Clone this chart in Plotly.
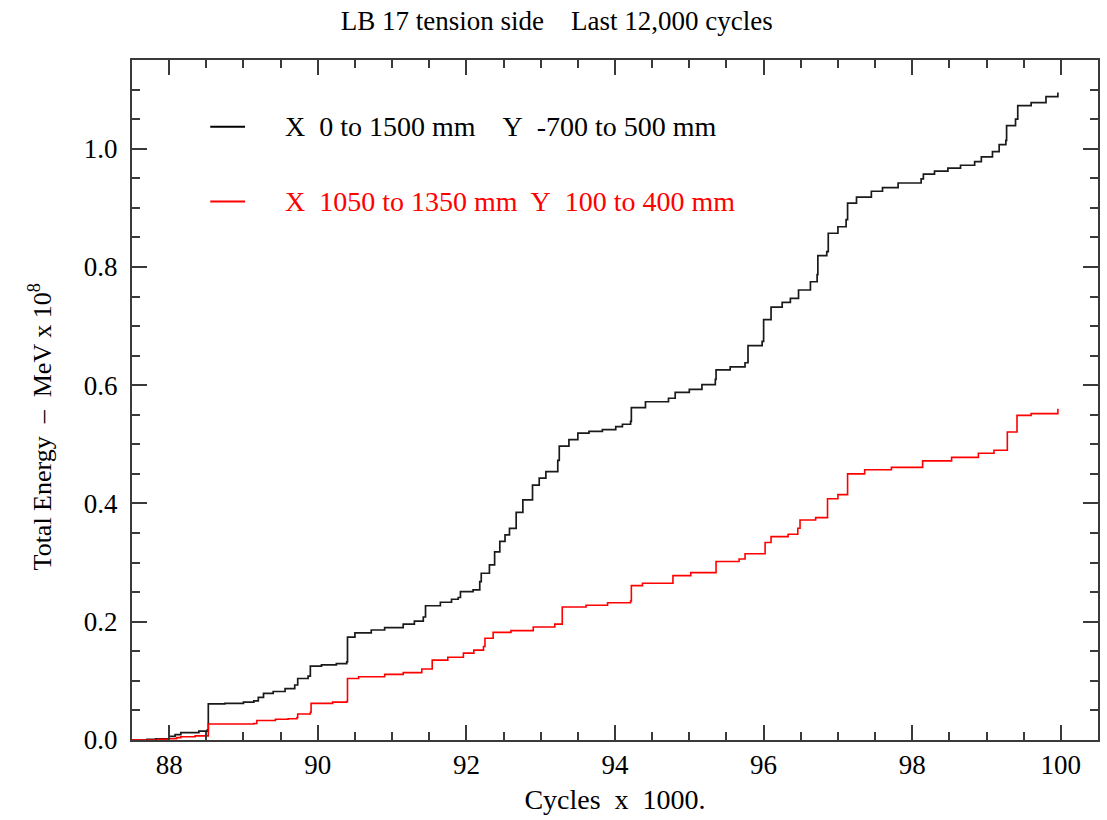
import plotly.graph_objects as go

# Cumulative energy, whole window X 0..1500 mm, Y -700..500 mm (step points: cycles/1000, MeV x 1e8)
full_cycles = [87.5, 87.70, 87.82, 88.0, 88.08, 88.157, 88.40, 88.514, 88.527, 88.75, 89.0, 89.14,
               89.20, 89.27, 89.40, 89.56, 89.69, 89.73, 89.87, 89.90, 90.05, 90.25, 90.39, 90.40,
               90.50, 90.72, 90.90, 91.15, 91.30, 91.42, 91.45, 91.65, 91.80, 91.89, 91.92, 92.09,
               92.18, 92.20, 92.31, 92.38, 92.45, 92.52, 92.58, 92.67, 92.76, 92.89, 92.98, 93.07,
               93.23, 93.25, 93.38, 93.50, 93.65, 93.83, 94.01, 94.10, 94.21, 94.22, 94.41, 94.72,
               94.81, 95.0, 95.17, 95.35, 95.36, 95.55, 95.75, 95.79, 95.98, 96.00, 96.10, 96.25,
               96.36, 96.47, 96.63, 96.72, 96.73, 96.85, 96.87, 97.00, 97.11, 97.13, 97.25, 97.45,
               97.60, 97.81, 98.12, 98.15, 98.30, 98.48, 98.65, 98.84, 98.93, 99.08, 99.17, 99.26,
               99.27, 99.39, 99.42, 99.60, 99.80, 99.96]
full_energy = [0.0, 0.001, 0.002, 0.006, 0.009, 0.0125, 0.015, 0.017, 0.061, 0.062, 0.064, 0.066,
               0.072, 0.079, 0.082, 0.087, 0.093, 0.104, 0.108, 0.125, 0.127, 0.129, 0.132, 0.174,
               0.181, 0.186, 0.190, 0.196, 0.201, 0.208, 0.227, 0.233, 0.238, 0.241, 0.251, 0.254,
               0.268, 0.282, 0.296, 0.318, 0.336, 0.347, 0.358, 0.385, 0.406, 0.431, 0.443, 0.454,
               0.473, 0.497, 0.508, 0.519, 0.522, 0.525, 0.530, 0.534, 0.539, 0.562, 0.572, 0.578,
               0.588, 0.593, 0.601, 0.610, 0.626, 0.631, 0.638, 0.667, 0.674, 0.711, 0.732, 0.740,
               0.747, 0.761, 0.775, 0.787, 0.819, 0.826, 0.857, 0.868, 0.880, 0.908, 0.918, 0.928,
               0.934, 0.942, 0.949, 0.957, 0.962, 0.967, 0.972, 0.978, 0.986, 0.995, 1.007, 1.014,
               1.039, 1.050, 1.073, 1.078, 1.088, 1.095]

# Cumulative energy, sub-window X 1050..1350 mm, Y 100..400 mm
zone_cycles = [87.5, 87.85, 88.0, 88.10, 88.157, 88.35, 88.527, 89.14, 89.18, 89.43, 89.60, 89.72,
               89.73, 89.90, 89.91, 90.20, 90.39, 90.40, 90.55, 90.90, 91.15, 91.40, 91.54, 91.75,
               91.96, 92.10, 92.23, 92.25, 92.36, 92.60, 92.90, 93.19, 93.29, 93.61, 93.90, 94.21,
               94.22, 94.37, 94.78, 95.02, 95.36, 95.67, 95.75, 96.02, 96.10, 96.33, 96.46, 96.49,
               96.70, 96.86, 97.00, 97.13, 97.36, 97.72, 98.14, 98.53, 98.89, 99.10, 99.28, 99.41,
               99.60, 99.96]
zone_energy = [0.0, 0.001, 0.002, 0.004, 0.0056, 0.007, 0.027, 0.028, 0.033, 0.035, 0.036, 0.038,
               0.044, 0.047, 0.062, 0.064, 0.065, 0.104, 0.107, 0.111, 0.114, 0.120, 0.135, 0.140,
               0.147, 0.152, 0.158, 0.172, 0.182, 0.185, 0.191, 0.196, 0.225, 0.228, 0.232, 0.235,
               0.261, 0.265, 0.278, 0.283, 0.302, 0.306, 0.315, 0.334, 0.344, 0.348, 0.358, 0.372,
               0.376, 0.408, 0.415, 0.450, 0.457, 0.461, 0.472, 0.478, 0.485, 0.490, 0.521, 0.549,
               0.552, 0.560]

x_ticks = [88, 90, 92, 94, 96, 98, 100]
y_ticks = [0.0, 0.2, 0.4, 0.6, 0.8, 1.0]

NB = "\u00a0"
SERIF = "Liberation Serif, Times New Roman, serif"
AXIS_COL = "#3a3a3a"

fig = go.Figure()
fig.add_trace(go.Scatter(x=full_cycles, y=full_energy, mode="lines", line_shape="hv",
                         line=dict(color="#1a1a1a", width=1.7), showlegend=False))
fig.add_trace(go.Scatter(x=zone_cycles, y=zone_energy, mode="lines", line_shape="hv",
                         line=dict(color="#ff0000", width=1.6), showlegend=False))

axis_common = dict(showgrid=False, zeroline=False, showline=True, linecolor=AXIS_COL, linewidth=2,
                   mirror="allticks", ticks="inside", tickcolor=AXIS_COL, tickwidth=2, ticklen=15,
                   tickfont=dict(family=SERIF, size=27, color="#000"))

fig.update_xaxes(range=[87.5, 100.5], tickvals=x_ticks, ticktext=[str(v) for v in x_ticks],
                 minor=dict(ticks="inside", dtick=0.5, tick0=88, ticklen=8, tickwidth=2, tickcolor=AXIS_COL),
                 title=dict(text=f"Cycles{NB} x{NB} 1000.", font=dict(family=SERIF, size=28, color="#000"),
                            standoff=10),
                 **axis_common)
fig.update_yaxes(range=[0, 1.15], tickvals=y_ticks, ticktext=[f"{v:.1f}" for v in y_ticks],
                 ticklabelstandoff=7,
                 minor=dict(ticks="inside", dtick=0.05, tick0=0, ticklen=8, tickwidth=2, tickcolor=AXIS_COL),
                 **axis_common)

# legend drawn as line samples + labels inside the plot
legend_rows = [
    (f"X{NB} 0 to 1500 mm{NB}{NB}{NB} Y{NB} -700 to 500 mm", "#000000", 0.902),
    (f"X{NB} 1050 to 1350 mm{NB} Y{NB} 100 to 400 mm", "#ff0000", 0.792),
]
for text, col, yp in legend_rows:
    fig.add_shape(type="line", xref="paper", yref="paper", x0=0.081, x1=0.117, y0=yp, y1=yp,
                  line=dict(color=col, width=2))
    fig.add_annotation(text=text, xref="paper", yref="paper", x=0.156, y=yp, xanchor="left",
                       yanchor="middle", showarrow=False, font=dict(family=SERIF, size=28, color=col))

fig.add_annotation(text=f"Total Energy{NB} –{NB} MeV x 10<sup>8</sup>", xref="paper", yref="paper",
                   x=-0.095, y=0.46, textangle=-90, showarrow=False, xanchor="center", yanchor="middle",
                   font=dict(family=SERIF, size=26, color="#000"))

fig.update_layout(
    width=1107, height=820,
    margin=dict(l=132, r=7, t=60, b=80),
    paper_bgcolor="white", plot_bgcolor="white",
    title=dict(text=f"LB 17 tension side{NB}{NB}{NB} Last 12,000 cycles", x=0.503, xanchor="center",
               y=0.975, yanchor="middle", font=dict(family=SERIF, size=27, color="#000")),
)

fig.write_html("out.html")
